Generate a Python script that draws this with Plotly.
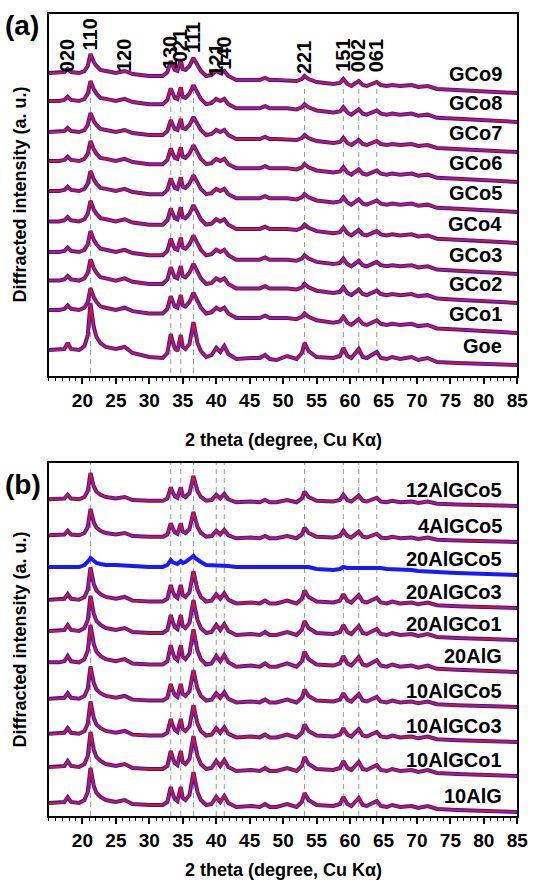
import plotly.graph_objects as go

# ---------------- data ----------------
two_theta = [15, 16.5, 17.3, 17.8, 18.3, 19.5, 20.3, 20.8, 21.0, 21.2,
             21.4, 21.7, 22.1, 22.7, 23.5, 25, 26.3, 27.5, 30, 32,
             32.7, 33.0, 33.2, 33.45, 33.8, 34.2, 34.7, 35.0, 35.4, 36.0,
             36.4, 36.6, 36.85, 37.2, 37.7, 38.5, 39.3, 40.0, 40.6, 41.2,
             41.8, 43, 45.2, 46.5, 47.3, 48, 49, 50.6, 52, 52.8,
             53.2, 53.8, 55, 57.5, 58.5, 59.0, 59.6, 60.2, 61.3, 61.9,
             62.5, 64.0, 64.6, 65.5, 66.3, 67.5, 69.2, 70.2, 71.6, 73,
             76, 80, 85]

# goethite (Goe) pattern
goe_profile = [15, 15, 16, 22, 16, 15, 19, 30, 45, 62,
               52, 38, 28, 22, 18, 16, 18, 12, 8, 7,
               12, 22, 31, 24, 17, 14, 30, 18, 16, 21,
               33, 43, 34, 22, 14, 8, 10, 17, 13, 19,
               11, 6, 7, 7, 10, 6, 5, 9, 6, 12,
               22, 14, 8, 7, 9, 17, 9, 7, 16, 8,
               7, 13, 7, 6, 8, 6, 8, 5, 7, 3,
               2, 1, 0]

# Co-doped goethite (GCo) pattern
gco_profile = [20, 20, 21, 24, 21, 20, 22, 27, 33, 39,
               36, 31, 27, 23, 22, 20, 22, 19, 17, 17,
               21, 28, 32, 28, 23, 22, 33, 24, 23, 27,
               32, 35, 32, 27, 22, 17, 18, 22, 20, 22,
               17, 13, 13, 13, 15, 13, 13, 13, 12, 14,
               17, 14, 11, 9, 10, 14, 9, 7, 12, 8,
               7, 11, 8, 7, 8, 7, 8, 6, 7, 4,
               3, 2, 0]

# Al-substituted goethite pattern
alg_profile = [9, 9, 10, 15, 10, 9, 12, 20, 31, 44,
               37, 26, 19, 15, 12, 10, 12, 8, 7, 7,
               10, 18, 25, 19, 13, 11, 25, 14, 12, 17,
               30, 40, 31, 20, 12, 7, 8, 15, 10, 16,
               9, 5, 6, 5, 8, 5, 5, 8, 5, 10,
               19, 12, 7, 6, 8, 15, 8, 6, 14, 7,
               6, 11, 6, 5, 7, 5, 6, 4, 6, 3,
               2, 1, 0]

# poorly crystalline 20AlGCo5 pattern
amorph_profile = [8, 8, 8, 9, 8, 8, 10, 13, 15, 17,
                  16, 14, 12, 11, 10, 10, 10, 9, 8, 8,
                  10, 13, 15, 13, 12, 11, 14, 12, 13, 16,
                  18, 19, 17, 15, 13, 10, 10, 10, 10, 9,
                  9, 8, 8, 8, 8, 8, 8, 8, 8, 8,
                  9, 8, 6, 5, 6, 8, 7, 7, 8, 8,
                  8, 8, 7, 6, 6, 5, 5, 4, 4, 3,
                  2, 1, 0]

profiles = {"goe": goe_profile, "gco": gco_profile, "alg": alg_profile, "amorph": amorph_profile}

# panel (a) samples (bottom to top)
a_names = ["Goe", "GCo1", "GCo2", "GCo3", "GCo4", "GCo5", "GCo6", "GCo7", "GCo8", "GCo9"]
a_profile = ["goe", "gco", "gco", "gco", "gco", "gco", "gco", "gco", "gco", "gco"]
a_scale = [1.0, 1.15, 1.12, 1.1, 1.08, 1.05, 1.05, 1.0, 1.05, 1.0]
a_offset = [0, 32, 62, 91, 122, 153, 183, 213, 243, 272]

# panel (b) samples (bottom to top)
b_names = ["10AlG", "10AlGCo1", "10AlGCo3", "10AlGCo5", "20AlG", "20AlGCo1",
           "20AlGCo3", "20AlGCo5", "4AlGCo5", "12AlGCo5"]
b_profile = ["alg", "alg", "alg", "alg", "alg", "alg", "alg", "amorph", "alg", "alg"]
b_scale = [1.0, 1.0, 0.92, 0.92, 1.07, 1.0, 0.92, 1.0, 0.75, 0.75]
b_offset = [0, 36, 70, 105, 140, 172, 204, 237, 270, 306]
b_has_fit = [True, True, True, True, True, True, True, False, True, True]

# hkl reflections
hkl_labels = ["020", "110", "120", "130", "021", "111", "121", "140", "221", "151", "002", "061"]
hkl_pos = [17.8, 21.2, 26.3, 33.2, 34.7, 36.6, 40.0, 41.2, 53.2, 59.0, 61.3, 64.0]
hkl_height = [291, 313, 291, 294, 301, 310, 286, 293, 289, 291, 291, 291]

dash_a = [21.2, 33.2, 34.7, 36.6, 53.2, 59.0, 61.3, 64.0]
dash_b = [21.2, 33.2, 34.7, 36.6, 40.0, 41.2, 53.2, 59.0, 61.3, 64.0]

x_ticks = [20, 25, 30, 35, 40, 45, 50, 55, 60, 65, 70, 75, 80, 85]

# ---------------- figure ----------------
BLUE = "rgb(25,25,255)"
RED = "rgb(228,20,20)"
FONT = "Arial, Liberation Sans, sans-serif"

fig = go.Figure()


def add_pattern(xa, ya, prof, scale, off, fit=True):
    y = [off + scale * v for v in profiles[prof]]
    fig.add_trace(go.Scatter(x=two_theta, y=y, xaxis=xa, yaxis=ya, mode="lines",
                             line=dict(color=BLUE, width=4),
                             hoverinfo="skip", showlegend=False))
    if fit:
        fig.add_trace(go.Scatter(x=two_theta, y=y, xaxis=xa, yaxis=ya, mode="lines",
                                 line=dict(color=RED, width=2),
                                 hoverinfo="skip", showlegend=False))


for n, p, s, o in zip(a_names, a_profile, a_scale, a_offset):
    add_pattern("x", "y", p, s, o)
for n, p, s, o, f in zip(b_names, b_profile, b_scale, b_offset, b_has_fit):
    add_pattern("x2", "y2", p, s, o, f)

shapes = []
for xv in dash_a:
    shapes.append(dict(type="line", xref="x", yref="y", x0=xv, x1=xv, y0=-8, y1=278,
                       line=dict(color="#9a9a9a", width=1, dash="5px,4px"), layer="below"))
for xv in dash_b:
    shapes.append(dict(type="line", xref="x2", yref="y2", x0=xv, x1=xv, y0=-4, y1=349,
                       line=dict(color="#9a9a9a", width=1, dash="5px,4px"), layer="below"))

ann = []
lab_font = dict(family=FONT, size=20, color="black", weight="bold")
for n, o in zip(a_names, a_offset):
    ann.append(dict(x=83, y=o + 19, xref="x", yref="y", text=n, showarrow=False,
                    xanchor="right", yanchor="middle", font=lab_font))
for n, o in zip(b_names, b_offset):
    ann.append(dict(x=83, y=o + 16, xref="x2", yref="y2", text=n, showarrow=False,
                    xanchor="right", yanchor="middle", font=lab_font))
for t, xv, hv in zip(hkl_labels, hkl_pos, hkl_height):
    ann.append(dict(x=xv, y=hv, xref="x", yref="y", text=t, showarrow=False,
                    textangle=-90, xanchor="center", yanchor="bottom",
                    font=dict(family=FONT, size=20, color="black", weight="bold")))

title_font = dict(family=FONT, size=18, color="black", weight="bold")
# panel letters
ann.append(dict(x=3 / 542, y=1 - 25 / 886, xref="paper", yref="paper", text="(a)", showarrow=False,
                xanchor="left", yanchor="middle", font=dict(family=FONT, size=28, color="black", weight="bold")))
ann.append(dict(x=3 / 542, y=1 - 485 / 886, xref="paper", yref="paper", text="(b)", showarrow=False,
                xanchor="left", yanchor="middle", font=dict(family=FONT, size=28, color="black", weight="bold")))
# axis titles
for yc in [195, 640]:
    ann.append(dict(x=20 / 542, y=1 - yc / 886, xref="paper", yref="paper",
                    text="Diffracted intensity (a. u.)", showarrow=False, textangle=-90,
                    xanchor="center", yanchor="middle", font=title_font))
for yc in [440, 870]:
    ann.append(dict(x=289 / 542, y=1 - yc / 886, xref="paper", yref="paper",
                    text="2 theta (degree, Cu K\u03b1)", showarrow=False,
                    xanchor="center", yanchor="middle", font=title_font))

xaxis_common = dict(range=[15, 85], tickvals=x_ticks, ticks="outside", ticklen=6, tickwidth=1.5,
                    tickcolor="black", showline=True, linecolor="black", linewidth=1.5, mirror=True,
                    showgrid=False, zeroline=False,
                    tickfont=dict(family=FONT, size=19, color="black", weight="bold"),
                    minor=dict(dtick=1, ticks="outside", ticklen=3, tickwidth=1, tickcolor="black"))
yaxis_common = dict(showticklabels=False, ticks="", showline=True, linecolor="black", linewidth=1.5,
                    mirror=True, showgrid=False, zeroline=False)

xd = [50 / 542, 528 / 542]
fig.update_layout(
    width=542, height=886, autosize=False, margin=dict(l=0, r=0, t=0, b=0),
    paper_bgcolor="white", plot_bgcolor="white",
    xaxis=dict(domain=xd, anchor="y", **xaxis_common),
    yaxis=dict(domain=[1 - 376 / 886, 1 - 14 / 886], range=[-11, 351], anchor="x", **yaxis_common),
    xaxis2=dict(domain=xd, anchor="y2", **xaxis_common),
    yaxis2=dict(domain=[1 - 816 / 886, 1 - 463 / 886], range=[-4, 349], anchor="x2", **yaxis_common),
    shapes=shapes, annotations=ann, showlegend=False,
)

fig.write_html("out.html")
